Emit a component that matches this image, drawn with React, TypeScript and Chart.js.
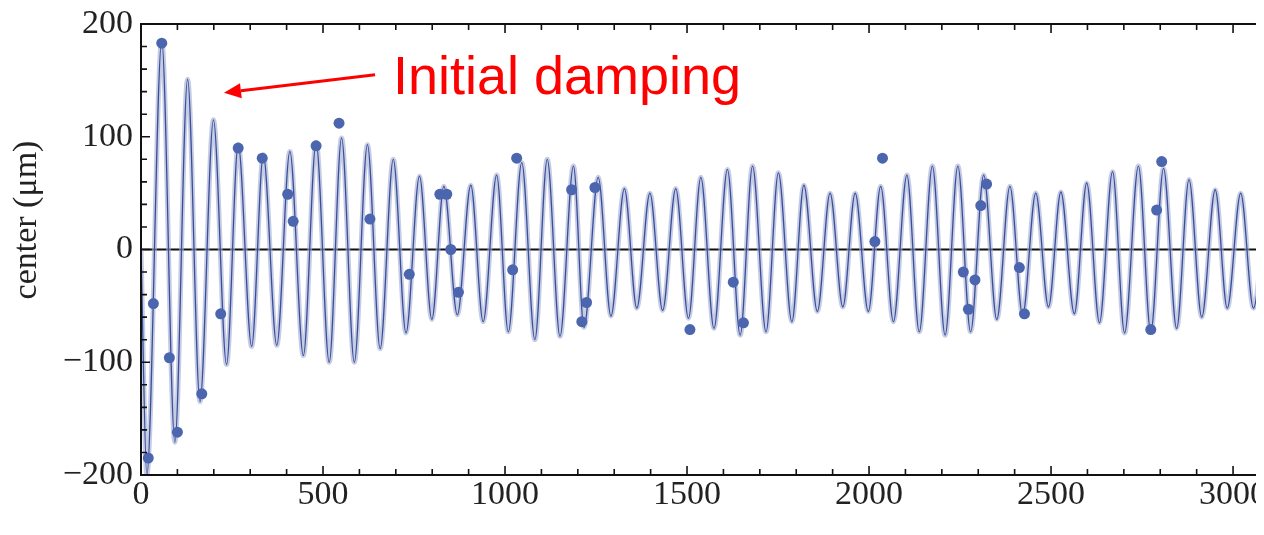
import { useEffect, useRef } from 'react';
import { Chart, registerables } from 'chart.js';

Chart.register(...registerables);

// Fitted oscillation: successive extrema (time, center in µm)
const curveT = [0,16,57,93,128,162,199,235,267,304,336,373,409,446,481,517,551,586,622,657,693,728,765,799,832,869,906,940,977,1009,1046,1082,1116,1151,1188,1217,1256,1291,1328,1362,1398,1433,1469,1504,1538,1574,1611,1646,1680,1717,1751,1788,1821,1858,1893,1928,1962,1998,2032,2067,2104,2138,2174,2209,2244,2279,2315,2351,2387,2422,2458,2493,2527,2564,2598,2633,2669,2702,2740,2774,2809,2845,2879,2914,2951,2984,3021,3056,3092];
const curveV = [0,-200,185,-171,151,-135,115,-102,93,-86,84,-85,87,-94,95,-100,99,-100,93,-88,80,-74,65,-62,56,-58,57,-64,66,-73,77,-80,80,-77,74,-69,64,-59,54,-52,50,-54,54,-61,64,-70,71,-76,74,-73,68,-64,57,-55,50,-51,50,-55,56,-64,66,-73,74,-76,74,-73,66,-62,56,-58,50,-51,51,-57,59,-65,69,-74,74,-73,72,-70,62,-60,53,-52,50,-52,52];

// Measured samples
const dotT = [20,34,57,78,100,167,219,267,333,403,418,481,544,629,737,821,840,851,872,1021,1032,1183,1211,1224,1247,1508,1627,1655,2016,2037,2259,2273,2291,2307,2323,2413,2427,2774,2790,2804];
const dotV = [-185,-48,183,-96,-162,-128,-57,90,81,49,25,92,112,27,-22,49,49,0,-38,-18,81,53,-64,-47,55,-71,-29,-65,7,81,-20,-53,-27,39,58,-16,-57,-71,35,78];

const xMajorTicks = [0, 500, 1000, 1500, 2000, 2500, 3000];
const yMajorTicks = [-200, -100, 0, 100, 200];
const X_MINOR_STEP = 100;
const Y_MINOR_STEP = 20;
const yTitle = 'center (μm)';
const annotationText = 'Initial damping';

const SERIF = "'Liberation Serif', 'DejaVu Serif', serif";

const fmt = (v: number) => (v < 0 ? '\u2212' + Math.abs(v) : String(v));

const rangeTicks = (a: number, b: number, step: number) => {
  const out: { value: number }[] = [];
  for (let v = a; v <= b; v += step) out.push({ value: v });
  return out;
};

const framePlugin = {
  id: 'frame',
  beforeDatasetsDraw(chart: any) {
    const { ctx, chartArea, scales } = chart;
    const y0 = scales.y.getPixelForValue(0);
    ctx.save();
    ctx.strokeStyle = '#111';
    ctx.lineWidth = 2;
    ctx.beginPath();
    ctx.moveTo(chartArea.left, y0);
    ctx.lineTo(chartArea.right, y0);
    ctx.stroke();
    ctx.restore();
  },
  afterDraw(chart: any) {
    const { ctx, chartArea, scales } = chart;
    const { left, right, top, bottom } = chartArea;
    const x = scales.x;
    const y = scales.y;
    ctx.save();
    ctx.strokeStyle = '#111';
    ctx.lineWidth = 2;
    ctx.strokeRect(left, top, right - left, bottom - top);
    ctx.lineWidth = 1.6;
    ctx.beginPath();
    x.ticks.forEach((t: any) => {
      const px = x.getPixelForValue(t.value);
      const len = xMajorTicks.includes(t.value) ? 9 : 6;
      ctx.moveTo(px, bottom);
      ctx.lineTo(px, bottom - len);
      ctx.moveTo(px, top);
      ctx.lineTo(px, top + len);
    });
    y.ticks.forEach((t: any) => {
      const py = y.getPixelForValue(t.value);
      const len = yMajorTicks.includes(t.value) ? 9 : 6;
      ctx.moveTo(left, py);
      ctx.lineTo(left + len, py);
      ctx.moveTo(right, py);
      ctx.lineTo(right - len, py);
    });
    ctx.stroke();

    // y axis title
    ctx.save();
    ctx.translate(19, 212);
    ctx.rotate(-Math.PI / 2);
    ctx.fillStyle = '#222';
    ctx.font = `34px ${SERIF}`;
    ctx.textAlign = 'center';
    ctx.textBaseline = 'middle';
    ctx.fillText(yTitle, 0, 0);
    ctx.restore();

    // annotation arrow
    const tipX = x.getPixelForValue(228);
    const tipY = y.getPixelForValue(139);
    const tailX = x.getPixelForValue(643);
    const tailY = y.getPixelForValue(155);
    const ang = Math.atan2(tipY - tailY, tipX - tailX);
    const headLen = 17;
    const headW = 7.5;
    const bx = tipX - headLen * Math.cos(ang);
    const by = tipY - headLen * Math.sin(ang);
    ctx.strokeStyle = '#ff0000';
    ctx.fillStyle = '#ff0000';
    ctx.lineWidth = 3;
    ctx.beginPath();
    ctx.moveTo(tailX, tailY);
    ctx.lineTo(bx, by);
    ctx.stroke();
    ctx.beginPath();
    ctx.moveTo(tipX, tipY);
    ctx.lineTo(bx + headW * Math.sin(ang), by - headW * Math.cos(ang));
    ctx.lineTo(bx - headW * Math.sin(ang), by + headW * Math.cos(ang));
    ctx.closePath();
    ctx.fill();

    ctx.font = "54px 'Liberation Sans', Arial, sans-serif";
    ctx.textAlign = 'left';
    ctx.textBaseline = 'alphabetic';
    ctx.fillText(annotationText, x.getPixelForValue(692), y.getPixelForValue(138));
    ctx.restore();
  },
};

export default function App() {
  const canvasRef = useRef<HTMLCanvasElement | null>(null);

  useEffect(() => {
    if (!canvasRef.current) return;
    const curve = curveT.map((t, i) => ({ x: t, y: curveV[i] }));
    const dots = dotT.map((t, i) => ({ x: t, y: dotV[i] }));
    const chart = new Chart(canvasRef.current, {
      type: 'line',
      data: {
        datasets: [
          {
            type: 'scatter',
            data: dots,
            pointRadius: 5.5,
            pointBackgroundColor: '#4b66ae',
            pointBorderWidth: 0,
            showLine: false,
            order: 0,
          } as any,
          {
            data: curve,
            borderColor: '#3a4f9a',
            borderWidth: 1.3,
            pointRadius: 0,
            cubicInterpolationMode: 'monotone',
            order: 1,
          },
          {
            data: curve,
            borderColor: 'rgba(160,170,210,0.6)',
            borderWidth: 5,
            pointRadius: 0,
            cubicInterpolationMode: 'monotone',
            order: 2,
          },
        ],
      },
      options: {
        animation: false,
        responsive: false,
        devicePixelRatio: 1,
        layout: { padding: { top: 16, right: 6, left: 0, bottom: 0 } },
        plugins: { legend: { display: false }, tooltip: { enabled: false }, title: { display: false } },
        scales: {
          x: {
            type: 'linear',
            min: 0,
            max: 3107,
            afterBuildTicks: (s: any) => { s.ticks = rangeTicks(0, 3100, X_MINOR_STEP); },
            afterFit: (s: any) => { s.height = 52; s.paddingLeft = 0; s.paddingRight = 0; },
            border: { display: false },
            grid: { display: false, drawTicks: false },
            ticks: {
              autoSkip: false,
              maxRotation: 0,
              minRotation: 0,
              padding: 0,
              color: '#222',
              font: { family: SERIF, size: 34 },
              callback: (v: any) => (xMajorTicks.includes(Number(v)) ? fmt(Number(v)) : ''),
            },
          },
          y: {
            type: 'linear',
            min: -200,
            max: 200,
            afterBuildTicks: (s: any) => { s.ticks = rangeTicks(-200, 200, Y_MINOR_STEP); },
            afterFit: (s: any) => { s.width = 133; s.paddingTop = 0; s.paddingBottom = 0; },
            border: { display: false },
            grid: { display: false, drawTicks: false },
            ticks: {
              autoSkip: false,
              padding: 8,
              color: '#222',
              font: { family: SERIF, size: 34 },
              callback: (v: any) => (yMajorTicks.includes(Number(v)) ? fmt(Number(v)) : ''),
            },
          },
        },
      },
      plugins: [framePlugin],
    });
    return () => chart.destroy();
  }, []);

  return (
    <div style={{ width: 1256, height: 519, overflow: 'hidden', position: 'relative', background: '#fff' }}>
      <canvas
        ref={canvasRef}
        width={1270}
        height={519}
        style={{ display: 'block', width: 1270, height: 519 }}
      />
    </div>
  );
}
